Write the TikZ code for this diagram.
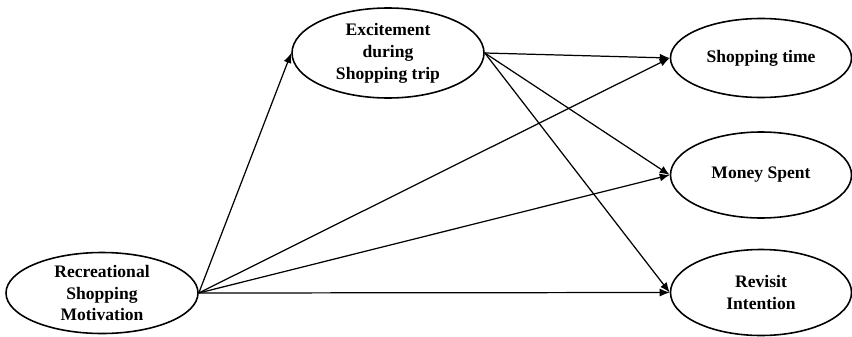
\documentclass[tikz,border=0pt]{standalone}
\usepackage{fontspec}
\setmainfont{Liberation Serif}
\usetikzlibrary{arrows.meta,positioning,shapes.geometric}
\tikzset{
myvar/.style={
  ellipse,
  line width=0.9pt,
  inner sep=0pt,
  minimum width=3.84cm,
  minimum height=1.7cm,
  align=center,
  draw=black,
  font=\fontsize{10}{12.5}\selectfont\bfseries,
  }
}
\tikzset{
myline/.style={
  line width=0.7pt,
  -{Latex[length=2mm,width=1.6mm]}
  }
}

\begin{document}
\begin{tikzpicture}
    \useasboundingbox (0,0) rectangle (17.04,6.72);

    % predictor and mediator
    \node[myvar, minimum height=1.62cm] (rsm) at (2.04,0.86) {Recreational\\Shopping\\Motivation};
    \node[myvar, minimum height=1.8cm] (exc) at (7.76,5.66) {Excitement\\during\\Shopping trip};

    % outcomes
    \node[myvar, minimum width=3.62cm, minimum height=1.58cm] (stime) at (15.22,5.56) {Shopping time};
    \node[myvar, minimum width=3.62cm, minimum height=1.72cm] (money) at (15.22,3.22) {Money Spent};
    \node[myvar, minimum width=3.62cm, minimum height=1.72cm] (revisit) at (15.22,0.87) {Revisit\\Intention};

    % direct edges
    \draw[myline] (rsm.east) -- (exc.west);
    \draw[myline] (rsm.east) -- (stime.west);
    \draw[myline] (rsm.east) -- (money.west);
    \draw[myline] (rsm.east) -- (revisit.west);

    % mediated edges
    \draw[myline] (exc.east) -- (stime.west);
    \draw[myline] (exc.east) -- (money.west);
    \draw[myline] (exc.east) -- (revisit.west);
\end{tikzpicture}
\end{document}
